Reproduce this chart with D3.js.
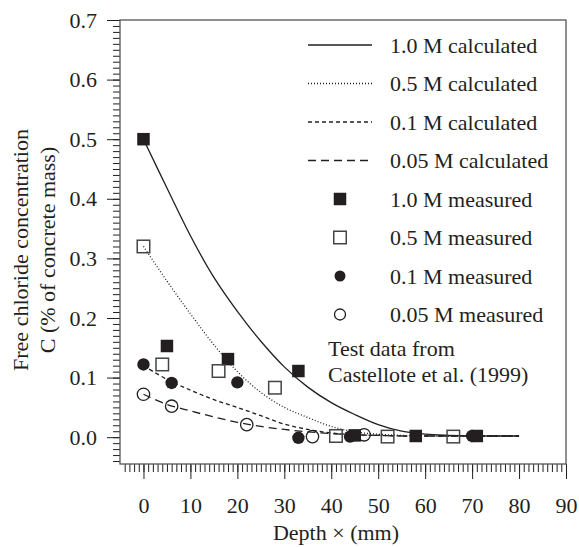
<!DOCTYPE html>
<html>
<head>
<meta charset="utf-8">
<script src="https://cdn.jsdelivr.net/npm/d3@7"></script>
<style>
  html, body { margin: 0; padding: 0; background: #fff; }
  svg text { font-family: "Liberation Serif", "DejaVu Serif", serif; fill: #231f20; }
</style>
</head>
<body>
<div id="chart-container"></div>
<script>
// depth (mm) for the calculated curves
const calcDepth = [0, 5, 10, 15, 20, 25, 30, 35, 40, 45, 50, 55, 60, 65, 70, 75, 80];
const calc10 = [0.50, 0.418, 0.338, 0.268, 0.211, 0.161, 0.118, 0.084, 0.058, 0.038, 0.021, 0.010, 0.005, 0.003, 0.002, 0.002, 0.002];
const calc05 = [0.32, 0.262, 0.207, 0.155, 0.110, 0.075, 0.050, 0.033, 0.018, 0.009, 0.005, 0.003, 0.002, 0.002, 0.002, 0.002, 0.002];
const calc01 = [0.12, 0.097, 0.079, 0.063, 0.050, 0.036, 0.022, 0.013, 0.007, 0.004, 0.003, 0.002, 0.002, 0.002, 0.002, 0.002, 0.002];
const calc005 = [0.072, 0.055, 0.044, 0.034, 0.025, 0.018, 0.013, 0.009, 0.006, 0.004, 0.003, 0.002, 0.002, 0.002, 0.002, 0.002, 0.002];

// measured points [depth, C]
const meas10 = [[0, 0.50], [5, 0.153], [18, 0.131], [33, 0.111], [45, 0.003], [58, 0.002], [71, 0.002]];
const meas05 = [[0, 0.32], [4, 0.122], [16, 0.111], [28, 0.083], [41, 0.002], [52, 0.001], [66, 0.001]];
const meas01 = [[0, 0.122], [6, 0.091], [20, 0.092], [33, -0.001], [44, 0.001], [70, 0.002]];
const meas005 = [[0, 0.072], [6, 0.052], [22, 0.021], [36, 0.001], [47, 0.004]];

const xTicks = [0, 10, 20, 30, 40, 50, 60, 70, 80, 90];
const yTicks = [0.0, 0.1, 0.2, 0.3, 0.4, 0.5, 0.6, 0.7];

const legendLabels = ['1.0 M calculated', '0.5 M calculated', '0.1 M calculated', '0.05 M calculated',
  '1.0 M measured', '0.5 M measured', '0.1 M measured', '0.05 M measured'];

const ink = '#231f20';
const serif = '"Liberation Serif", "DejaVu Serif", serif';
const W = 579, H = 547;
const margin = { top: 20, right: 13, bottom: 83, left: 120 };
const width = W - margin.left - margin.right;
const height = H - margin.top - margin.bottom;

const svg = d3.select('#chart-container').append('svg')
  .attr('width', W).attr('height', H);

const x = d3.scaleLinear().domain([-5, 90]).range([0, width]);
const y = d3.scaleLinear().domain([-0.045, 0.7]).range([height, 0]);

const g = svg.append('g')
  .attr('transform', 'translate(' + margin.left + ',' + margin.top + ')');

// minor ticks
g.append('g')
  .attr('transform', 'translate(0,' + height + ')')
  .call(d3.axisBottom(x).tickValues(d3.range(-4, 91, 1)).tickSize(8).tickSizeOuter(0).tickFormat(''))
  .call(a => a.select('.domain').remove())
  .call(a => a.selectAll('line').attr('stroke', ink));
g.append('g')
  .call(d3.axisLeft(y).tickValues(d3.range(-4, 71, 1).map(v => v / 100)).tickSize(7).tickSizeOuter(0).tickFormat(''))
  .call(a => a.select('.domain').remove())
  .call(a => a.selectAll('line').attr('stroke', ink));

// major ticks
const xAxis = g.append('g')
  .attr('transform', 'translate(0,' + height + ')')
  .call(d3.axisBottom(x).tickValues(xTicks).tickSize(15).tickSizeOuter(0).tickPadding(18).tickFormat(d3.format('d')))
  .attr('font-family', serif).attr('font-size', 22);
xAxis.select('.domain').remove();
xAxis.selectAll('line').attr('stroke', ink);

const yAxis = g.append('g')
  .call(d3.axisLeft(y).tickValues(yTicks).tickSize(13).tickPadding(10).tickSizeOuter(0).tickFormat(d3.format('.1f')))
  .attr('font-family', serif).attr('font-size', 22);
yAxis.select('.domain').remove();
yAxis.selectAll('line').attr('stroke', ink);

// frame
g.append('rect')
  .attr('width', width).attr('height', height)
  .attr('fill', 'none').attr('stroke', '#555').attr('stroke-width', 1.3);

// curves
const line = d3.line().x(d => x(d[0])).y(d => y(d[1])).curve(d3.curveCatmullRom.alpha(0.5));
const curves = [
  { vals: calc10, dash: null },
  { vals: calc05, dash: '1,2' },
  { vals: calc01, dash: '4,3' },
  { vals: calc005, dash: '8,5' },
];
curves.forEach(c => {
  g.append('path')
    .datum(calcDepth.map((d, i) => [d, c.vals[i]]))
    .attr('fill', 'none')
    .attr('stroke', ink)
    .attr('stroke-width', 1.3)
    .attr('stroke-dasharray', c.dash)
    .attr('d', line);
});

// markers
const sq = 12.5, r = 6.2;
function square(sel, filled) {
  sel.append('rect')
    .attr('x', -sq / 2).attr('y', -sq / 2).attr('width', sq).attr('height', sq)
    .attr('fill', filled ? ink : '#fff')
    .attr('fill-opacity', filled ? 1 : 0)
    .attr('stroke', filled ? 'none' : '#444').attr('stroke-width', 1.5);
}
function circle(sel, filled, rad) {
  sel.append('circle').attr('r', rad)
    .attr('fill', filled ? ink : '#fff')
    .attr('fill-opacity', filled ? 1 : 0)
    .attr('stroke', filled ? 'none' : ink).attr('stroke-width', 1.3);
}
const measured = [
  { pts: meas10, draw: s => square(s, true) },
  { pts: meas05, draw: s => square(s, false) },
  { pts: meas01, draw: s => circle(s, true, r) },
  { pts: meas005, draw: s => circle(s, false, r) },
];
measured.forEach(m => {
  g.selectAll(null).data(m.pts).enter().append('g')
    .attr('transform', d => 'translate(' + x(d[0]) + ',' + y(d[1]) + ')')
    .each(function () { m.draw(d3.select(this)); });
});

// legend
const leg = svg.append('g');
const rowY = i => 45 + i * 38.5;
legendLabels.forEach((lab, i) => {
  const ly = rowY(i);
  if (i < 4) {
    leg.append('line')
      .attr('x1', 308).attr('x2', 372).attr('y1', ly).attr('y2', ly)
      .attr('stroke', ink).attr('stroke-width', 1.3)
      .attr('stroke-dasharray', curves[i].dash);
  } else {
    const s = leg.append('g').attr('transform', 'translate(340,' + ly + ')');
    if (i === 4) square(s, true);
    if (i === 5) square(s, false);
    if (i === 6) circle(s, true, 5.5);
    if (i === 7) circle(s, false, 5.5);
  }
  leg.append('text')
    .attr('x', 390).attr('y', ly).attr('dy', '0.35em')
    .attr('font-size', 22).text(lab);
});
leg.append('text').attr('x', 328).attr('y', 348).attr('dy', '0.35em')
  .attr('font-size', 22).text('Test data from');
leg.append('text').attr('x', 328).attr('y', 374).attr('dy', '0.35em')
  .attr('font-size', 22).text('Castellote et al. (1999)');

// axis titles
svg.append('text')
  .attr('transform', 'translate(20,250) rotate(-90)')
  .attr('text-anchor', 'middle').attr('dy', '0.35em')
  .attr('font-size', 22).text('Free chloride concentration');
svg.append('text')
  .attr('transform', 'translate(47,250) rotate(-90)')
  .attr('text-anchor', 'middle').attr('dy', '0.35em')
  .attr('font-size', 22).text('C (% of concrete mass)');
svg.append('text')
  .attr('x', 336).attr('y', 540)
  .attr('text-anchor', 'middle')
  .attr('font-size', 22).text('Depth \u00d7 (mm)');
</script>
</body>
</html>
